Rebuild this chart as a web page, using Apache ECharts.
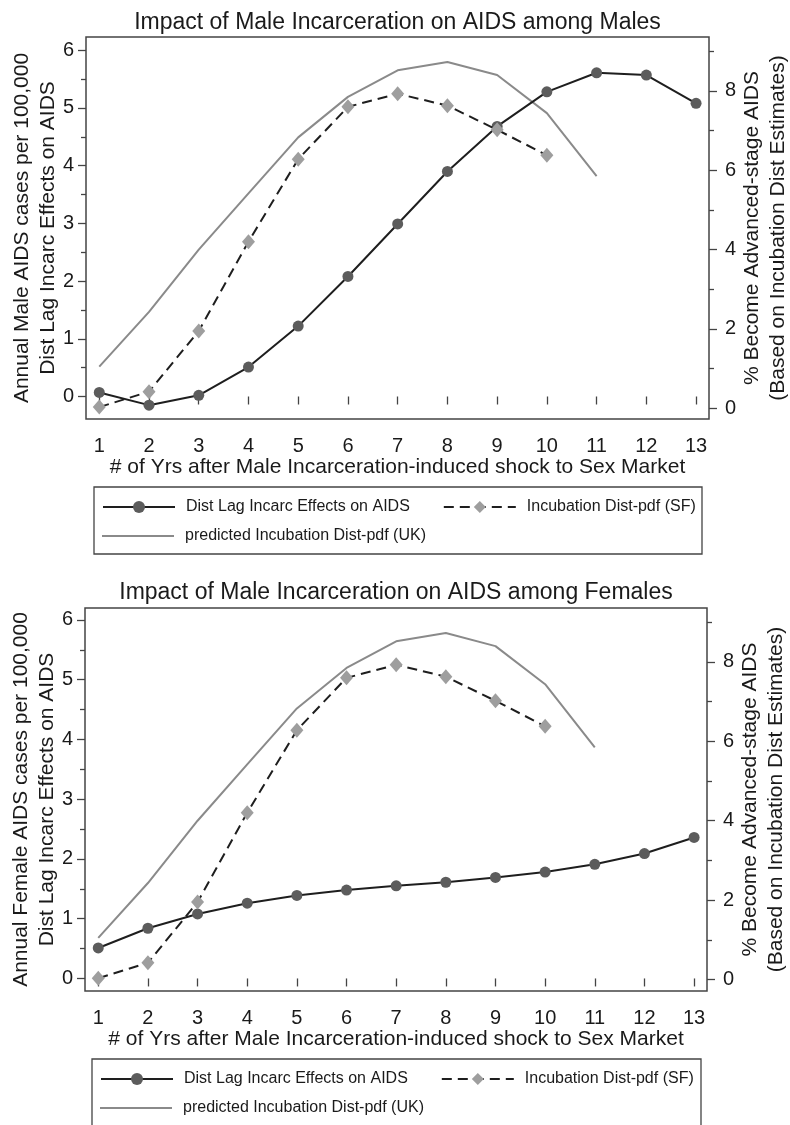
<!DOCTYPE html>
<html>
<head>
<meta charset="utf-8">
<script src="https://cdn.jsdelivr.net/npm/echarts@6/dist/echarts.min.js"></script>
<style>
  html, body { margin: 0; padding: 0; background: #fff; }
  #chart { width: 790px; height: 1125px; }
</style>
</head>
<body>
<div id="chart"></div>
<script>
// ---------- data ----------
const years = [1, 2, 3, 4, 5, 6, 7, 8, 9, 10, 11, 12, 13];
const maleDistLag = [0.07, -0.15, 0.02, 0.51, 1.22, 2.08, 2.99, 3.90, 4.68, 5.28, 5.61, 5.57, 5.08];
const femaleDistLag = [0.51, 0.84, 1.08, 1.26, 1.39, 1.48, 1.55, 1.61, 1.69, 1.78, 1.91, 2.09, 2.36];
const sfPdf = [0.03, 0.42, 1.95, 4.20, 6.28, 7.60, 7.93, 7.63, 7.02, 6.38];
const ukPdf = [1.05, 2.43, 4.00, 5.42, 6.83, 7.85, 8.52, 8.73, 8.40, 7.44, 5.85];
const leftTicks = [0, 1, 2, 3, 4, 5, 6];
const leftMinorTicks = [0.5, 1.5, 2.5, 3.5, 4.5, 5.5];
const rightTicks = [0, 2, 4, 6, 8];
const rightMinorTicks = [1, 3, 5, 7, 9];

const titles = ['Impact of Male Incarceration on AIDS among Males', 'Impact of Male Incarceration on AIDS among Females'];
const leftNames = ['Annual Male AIDS cases per 100,000\nDist Lag Incarc Effects on AIDS',
                   'Annual Female AIDS cases per 100,000\nDist Lag Incarc Effects on AIDS'];
const rightName = '% Become Advanced-stage AIDS\n(Based on Incubation Dist Estimates)';
const xName = '# of Yrs after Male Incarceration-induced shock to Sex Market';
const nDist = 'Dist Lag Incarc Effects on AIDS';
const nSF = 'Incubation Dist-pdf (SF)';
const nUK = 'predicted Incubation Dist-pdf (UK)';

// ---------- style ----------
const FONT = "'Liberation Sans', Arial, sans-serif";
const TXT = '#1a1a1a';
const AX = '#444';
const UKC = '#8a8a8a';
const panels = [
  { top: 37, height: 382, left: 86, right: 81, yL: [-0.39, 6.23], yR: [-0.27, 9.36], dist: maleDistLag,
    titleTop: 11, titleX: 397.5, legTop: 499, legLeft: 102, box: [94, 487, 608, 67] },
  { top: 608, height: 383, left: 85, right: 83, yL: [-0.21, 6.20], yR: [-0.29, 9.36], dist: femaleDistLag,
    titleTop: 581, titleX: 396, legTop: 1071, legLeft: 100, box: [92, 1059, 609, 67] }
];
const X_MIN = 0.733, X_MAX = 13.26;

const pairs = (xs, ys) => ys.map((v, i) => [xs[i], v]);

const option = {
  backgroundColor: '#fff',
  animation: false,
  textStyle: { fontFamily: FONT, color: TXT },
  title: [], grid: [], xAxis: [], yAxis: [], series: [], legend: [], graphic: []
};

panels.forEach((p, k) => {
  option.title.push({
    text: titles[k], left: p.titleX, top: p.titleTop, textAlign: 'center', padding: 0,
    textStyle: { fontFamily: FONT, fontSize: 23, fontWeight: 'normal', color: TXT }
  });
  option.grid.push({
    left: p.left, right: p.right, top: p.top, height: p.height,
    containLabel: false, outerBoundsMode: 'none',
    show: true, borderColor: AX, borderWidth: 1.5, backgroundColor: 'transparent'
  });
  option.xAxis.push({
    type: 'value', gridIndex: k, min: X_MIN, max: X_MAX,
    name: xName, nameLocation: 'middle', nameGap: 38, nameMoveOverlap: false,
    nameTextStyle: { fontFamily: FONT, fontSize: 21, color: TXT },
    axisLine: { show: false },
    axisTick: { show: true, length: 8, customValues: years, lineStyle: { color: AX, width: 1.3 } },
    axisLabel: { customValues: years, fontSize: 20, margin: 17, color: TXT, fontFamily: FONT },
    splitLine: { show: false }
  });
  const base = { type: 'value', gridIndex: k, splitLine: { show: false }, axisLine: { show: false } };
  // left main
  option.yAxis.push(Object.assign({}, base, {
    position: 'left', min: p.yL[0], max: p.yL[1],
    name: leftNames[k], nameLocation: 'middle', nameGap: 25, nameRotate: 90, nameMoveOverlap: false,
    nameTextStyle: { fontFamily: FONT, fontSize: 21, lineHeight: 26, color: TXT },
    axisTick: { show: true, length: 8, customValues: leftTicks, lineStyle: { color: AX, width: 1.3 } },
    axisLabel: { customValues: leftTicks, fontSize: 20, margin: 12, color: TXT, fontFamily: FONT }
  }));
  // left minor
  option.yAxis.push(Object.assign({}, base, {
    position: 'left', min: p.yL[0], max: p.yL[1],
    axisTick: { show: true, length: 5, customValues: leftMinorTicks, lineStyle: { color: AX, width: 1.3 } },
    axisLabel: { show: false }
  }));
  // right main
  option.yAxis.push(Object.assign({}, base, {
    position: 'right', min: p.yR[0], max: p.yR[1],
    name: rightName, nameLocation: 'middle', nameGap: 30, nameRotate: 90, nameMoveOverlap: false,
    nameTextStyle: { fontFamily: FONT, fontSize: 21, lineHeight: 26, color: TXT },
    axisTick: { show: true, length: 8, customValues: rightTicks, lineStyle: { color: AX, width: 1.3 } },
    axisLabel: { customValues: rightTicks, fontSize: 20, margin: 16, color: TXT, fontFamily: FONT }
  }));
  // right minor
  option.yAxis.push(Object.assign({}, base, {
    position: 'right', min: p.yR[0], max: p.yR[1],
    axisTick: { show: true, length: 5, customValues: rightMinorTicks, lineStyle: { color: AX, width: 1.3 } },
    axisLabel: { show: false }
  }));
  const yb = k * 4;
  option.series.push({
    name: nUK, type: 'line', xAxisIndex: k, yAxisIndex: yb + 2, data: pairs(years, ukPdf),
    symbol: 'none', lineStyle: { color: UKC, width: 2 }, itemStyle: { color: UKC }, z: 2
  });
  option.series.push({
    name: nDist, type: 'line', xAxisIndex: k, yAxisIndex: yb, data: pairs(years, p.dist),
    symbol: 'circle', symbolSize: 11,
    lineStyle: { color: '#1e1e1e', width: 2 }, itemStyle: { color: '#5c5c5c' }, z: 3
  });
  option.series.push({
    name: nSF, type: 'line', xAxisIndex: k, yAxisIndex: yb + 2, data: pairs(years, sfPdf),
    symbol: 'diamond', symbolSize: [13, 15],
    lineStyle: { color: '#1e1e1e', width: 2, type: [10, 6] }, itemStyle: { color: '#9e9e9e' }, z: 4
  });
  option.legend.push({
    data: [nDist, nSF], left: p.legLeft, top: p.legTop, padding: 0, orient: 'horizontal',
    itemWidth: 72, itemHeight: 15, itemGap: 33, selectedMode: false,
    textStyle: { fontFamily: FONT, fontSize: 16, color: TXT, padding: [0, 0, 0, 6] }
  });
  option.legend.push({
    data: [{ name: nUK, icon: 'rect', itemStyle: { color: UKC } }],
    left: p.legLeft, top: p.legTop + 29, padding: 0,
    itemWidth: 72, itemHeight: 2, selectedMode: false,
    textStyle: { fontFamily: FONT, fontSize: 16, color: TXT, padding: [0, 0, 0, 6] }
  });
  option.graphic.push({
    type: 'rect', silent: true, z: -1,
    shape: { x: p.box[0], y: p.box[1], width: p.box[2], height: p.box[3] },
    style: { fill: 'none', stroke: AX, lineWidth: 1.3 }
  });
});

const chart = echarts.init(document.getElementById('chart'), null, { renderer: 'canvas' });
chart.setOption(option);
</script>
</body>
</html>
